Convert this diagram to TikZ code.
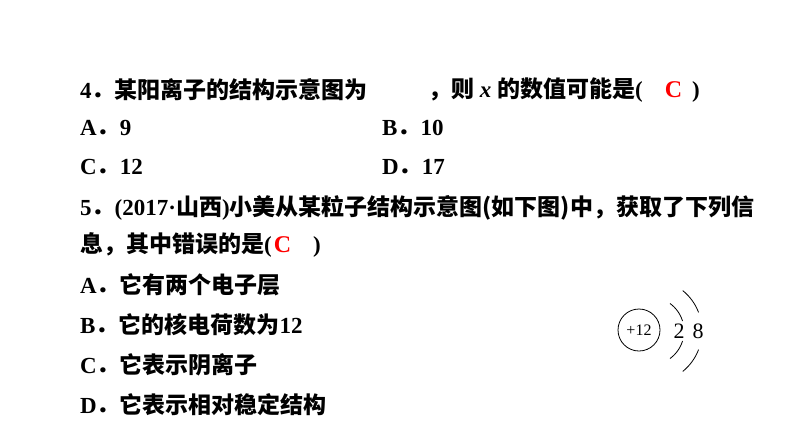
\documentclass[tikz,border=0pt]{standalone}
\usepackage{fontspec}
\setmainfont{Liberation Serif}
\newfontfamily\cjk{Noto Sans CJK SC}
\newcommand\ansC{{\color{red}\fontsize{24}{26}\selectfont C}}
\begin{document}
\begin{tikzpicture}[x=1pt,y=-1pt,
  t/.style={anchor=west,inner sep=0pt,font=\fontsize{23}{26}\selectfont\bfseries}]
\useasboundingbox (0,0) rectangle (794,447);
\node[t] (q4) at (80,90) {4{\cjk ．某阳离子的结构示意图为}};
\node[t] (q4b) at (428,90) {{\cjk ，则} \textit{x} {\cjk 的数值可能是}(\hspace{22pt}\ansC\hspace{10pt})};
\node[t] (o4a) at (80,128) {A{\cjk ．}9};
\node[t] (o4b) at (382,128) {B{\cjk ．}10};
\node[t] (o4c) at (80,167) {C{\cjk ．}12};
\node[t] (o4d) at (382,167) {D{\cjk ．}17};
\node[t] (q5) at (80,208) {5{\cjk ．}(2017·{\cjk 山西})\cjk 小美从某粒子结构示意图(如下图)中，获取了下列信};
\node[t] (q5b) at (80,245) {{\cjk 息，其中错误的是}(\hspace{2pt}\ansC\hspace{22pt})};
\node[t] (o5a) at (80,285) {A{\cjk ．它有两个电子层}};
\node[t] (o5b) at (80,325) {B{\cjk ．它的核电荷数为}12};
\node[t] (o5c) at (80,365) {C{\cjk ．它表示阴离子}};
\node[t] (o5d) at (80,405) {D{\cjk ．它表示相对稳定结构}};
\node[draw,circle,line width=0.8pt,minimum size=42pt,inner sep=0pt,font=\fontsize{16}{17}\selectfont] (nuc) at (639,330) {+12};
\node[font=\fontsize{22}{22}\selectfont] (e1) at (679,331) {2};
\node[font=\fontsize{22}{22}\selectfont] (e2) at (698,331) {8};
\draw[line width=0.8pt] plot[smooth,domain=-54:-17] ({650+34*cos(\x)},{331+34*sin(\x)});
\draw[line width=0.8pt] plot[smooth,domain=17:54] ({650+34*cos(\x)},{331+34*sin(\x)});
\draw[line width=0.8pt] plot[smooth,domain=-51:-21] ({650+52*cos(\x)},{331+52*sin(\x)});
\draw[line width=0.8pt] plot[smooth,domain=21:51] ({650+52*cos(\x)},{331+52*sin(\x)});
\end{tikzpicture}
\end{document}
